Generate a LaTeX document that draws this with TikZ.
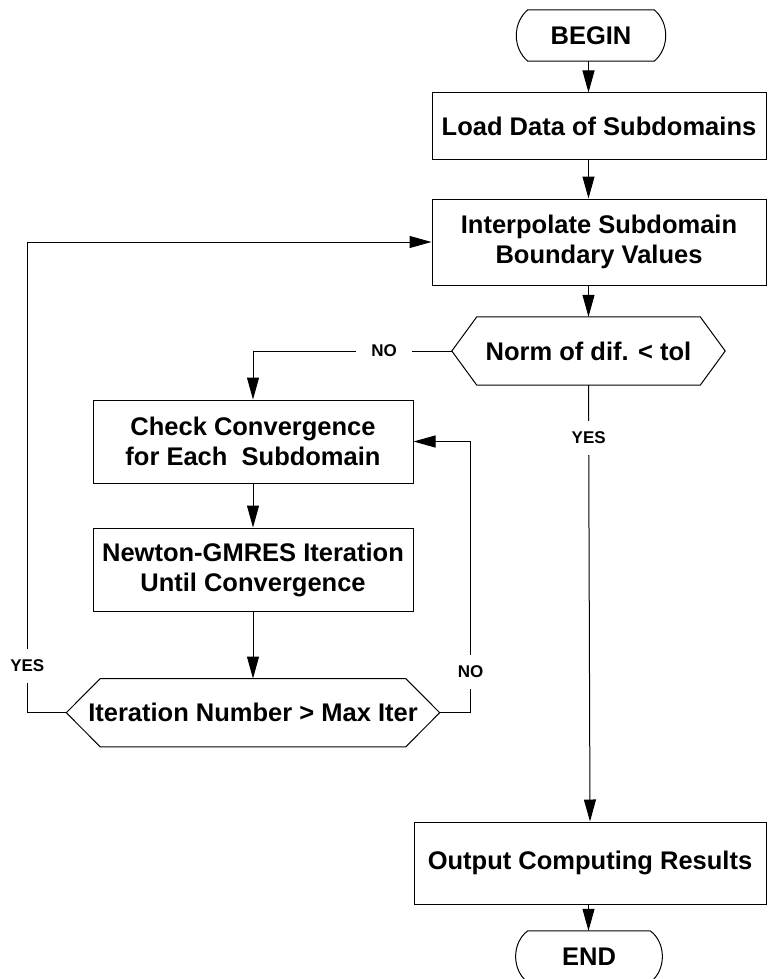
\documentclass[tikz,border=0pt]{standalone}
\usepackage{fontspec}
\setmainfont{Liberation Sans}
\usetikzlibrary{arrows.meta,positioning}
\tikzstyle{block} = [rectangle, draw, line width=1pt, align=center, inner sep=0pt]
\tikzstyle{decision} = [rectangle, align=center, inner sep=0pt, minimum height=68pt]
\tikzstyle{terminal} = [rectangle, inner sep=0pt, minimum height=51pt]
\tikzstyle{line} = [draw, line width=1pt, -{Triangle[length=22pt,width=12pt]}]
\tikzstyle{answer} = [fill=white, inner xsep=15pt, inner ysep=11pt,
    font=\bfseries\fontsize{17}{20}\selectfont]

\begin{document}
\begin{tikzpicture}[x=1pt, y=-1pt, font=\bfseries\fontsize{25.5}{30}\selectfont]
    \useasboundingbox (0,0) rectangle (768,979);
    % Place nodes
    \node [terminal, minimum width=150pt] (begin) at (591,35.5) {BEGIN};
    \node [block, minimum width=334pt, minimum height=66pt] (load) at (599,126) {Load Data of Subdomains};
    \node [block, minimum width=334pt, minimum height=86pt] (interp) at (599,242) {Interpolate Subdomain\\Boundary Values};
    \node [decision, minimum width=273pt] (norm) at (588.5,351) {Norm of dif. < tol};
    \node [block, minimum width=320pt, minimum height=83pt] (check) at (253,441.5) {Check Convergence\\for Each\ \ Subdomain};
    \node [block, minimum width=320pt, minimum height=83pt, below = 44pt of check] (newton) {Newton-GMRES Iteration\\Until Convergence};
    \node [decision, minimum width=373pt, below = 67pt of newton] (iter) {Iteration Number > Max Iter};
    \node [block, minimum width=352pt, minimum height=82pt] (output) at (590,863) {Output Computing Results};
    \node [terminal, minimum width=148pt] (end) at (589,956.5) {END};
    % Outlines of terminals and decisions
    \draw [line width=1pt] ([xshift=12pt]begin.north west) -- ([xshift=-12pt]begin.north east)
        to[bend left=50] ([xshift=-12pt]begin.south east) -- ([xshift=12pt]begin.south west)
        to[bend left=50] ([xshift=12pt]begin.north west);
    \draw [line width=1pt] ([xshift=13pt]end.north west) -- ([xshift=-13pt]end.north east)
        to[bend left=54] ([xshift=-13pt]end.south east) -- ([xshift=13pt]end.south west)
        to[bend left=54] ([xshift=13pt]end.north west);
    \draw [line width=1pt] (norm.west) -- ([xshift=25pt]norm.north west) -- ([xshift=-25pt]norm.north east)
        -- (norm.east) -- ([xshift=-25pt]norm.south east) -- ([xshift=25pt]norm.south west) -- cycle;
    \draw [line width=1pt] (iter.west) -- ([xshift=34pt]iter.north west) -- ([xshift=-34pt]iter.north east)
        -- (iter.east) -- ([xshift=-34pt]iter.south east) -- ([xshift=34pt]iter.south west) -- cycle;
    % Connectors
    \path [line] (begin.south -| norm) -- (load.north -| norm);
    \path [line] (load.south -| norm) -- (interp.north -| norm);
    \path [line] (interp.south -| norm) -- (norm.north);
    \path [line] (norm.west) -| node [answer, pos=0.17] {NO} (check.north);
    \path [line] (norm.south) -- node [answer, pos=0.12] {YES} (output.north);
    \path [line] (check.south) -- (newton.north);
    \path [line] (newton.south) -- (iter.north);
    \path [line] (iter.west) -- ++(-39,0) |- node [answer, pos=0.05] {YES} (interp.west);
    \path [line] (iter.east) -- ++(31,0) |- node [answer, pos=0.075] {NO} (check.east);
    \path [line] (output.south -| norm) -- (end.north -| norm);
\end{tikzpicture}
\end{document}
